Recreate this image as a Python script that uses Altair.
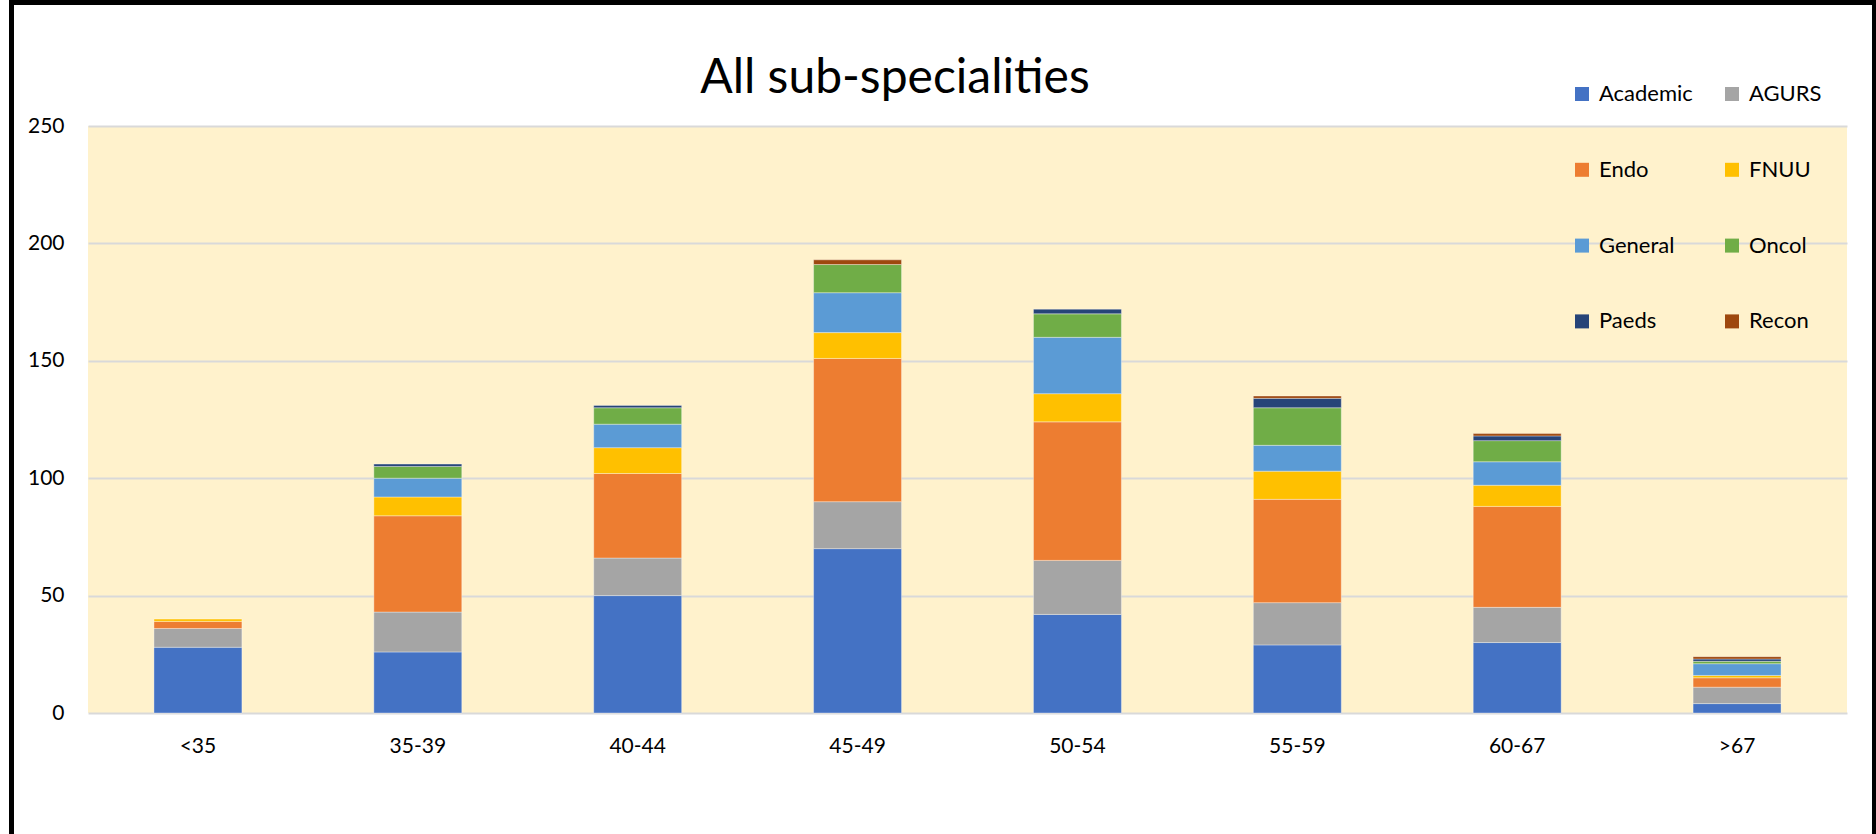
import altair as alt
import pandas as pd

# Age bands on the x axis and the sub-speciality series stacked in each bar
age_groups = ["<35", "35-39", "40-44", "45-49", "50-54", "55-59", "60-67", ">67"]
specialities = ["Academic", "AGURS", "Endo", "FNUU", "General", "Oncol", "Paeds", "Recon"]
colours = ["#4472C4", "#A5A5A5", "#ED7D31", "#FFC000", "#5B9BD5", "#70AD47", "#264478", "#9E480E"]

academic = [28, 26, 50, 70, 42, 29, 30, 4]
agurs = [8, 17, 16, 20, 23, 18, 15, 7]
endo = [3, 41, 36, 61, 59, 44, 43, 4]
fnuu = [1, 8, 11, 11, 12, 12, 9, 1]
general = [0, 8, 10, 17, 24, 11, 10, 5]
oncol = [0, 5, 7, 12, 10, 16, 9, 1]
paeds = [0, 1, 1, 0, 2, 4, 2, 1]
recon = [0, 0, 0, 2, 0, 1, 1, 1]

y_ticks = [0, 50, 100, 150, 200, 250]
chart_title = "All sub-specialities"

series = [academic, agurs, endo, fnuu, general, oncol, paeds, recon]
rows = []
for k, (name, values) in enumerate(zip(specialities, series)):
    for age, v in zip(age_groups, values):
        if v > 0:
            rows.append({"age": age, "speciality": name, "count": v, "stack_order": k})
df = pd.DataFrame(rows)

FONT = "Lato"

bars = alt.Chart(df).mark_bar(
    stroke="#FFFFFF", strokeWidth=0.6, strokeOpacity=0.6
).encode(
    x=alt.X(
        "age:N",
        sort=age_groups,
        scale=alt.Scale(domain=age_groups, paddingInner=0.6, paddingOuter=0.3),
        axis=alt.Axis(
            title=None, labelAngle=0, domain=False, ticks=False, grid=False,
            labelPadding=22, labelFontSize=21, labelColor="#000000", labelFont=FONT,
        ),
    ),
    y=alt.Y(
        "count:Q",
        stack="zero",
        scale=alt.Scale(domain=[0, 250], nice=False),
        axis=alt.Axis(
            title=None, values=y_ticks, domain=False, ticks=False,
            labelPadding=24, labelFontSize=21, labelColor="#000000", labelFont=FONT,
            gridColor="#D9D9D9", gridWidth=2,
        ),
    ),
    color=alt.Color(
        "speciality:N",
        sort=specialities,
        scale=alt.Scale(domain=specialities, range=colours),
        legend=alt.Legend(
            title=None, orient="none", legendX=1483, legendY=-43, columns=2,
            direction="horizontal",
            symbolType="square", symbolSize=196, symbolStrokeWidth=0,
            labelFontSize=22, labelFont=FONT, labelColor="#000000",
            rowPadding=53.8, columnPadding=28, labelOffset=6,
        ),
    ),
    order=alt.Order("stack_order:Q"),
)

# Chart heading, written as a text mark above the plot area
heading = alt.Chart(alt.Data(values=[{"t": chart_title}])).mark_text(
    font=FONT, fontSize=48, color="#000000", align="center", baseline="alphabetic"
).encode(
    text="t:N", x=alt.value(807), y=alt.value(-33)
)

# Black outline drawn round the whole figure
frame = alt.Chart(alt.Data(values=[{}])).mark_rect(
    filled=False, stroke="#000000", strokeWidth=5
).encode(
    x=alt.value(-76.5), x2=alt.value(1786.5), y=alt.value(-123.5), y2=alt.value(800)
)

chart = alt.layer(bars, heading, frame).properties(
    width=1759,
    height=587,
    autosize=alt.AutoSizeParams(type="none"),
    padding={"left": 88, "top": 126, "right": 29, "bottom": 121},
).configure(
    background="#FFFFFF", font=FONT
).configure_view(
    fill="#FFF2CC", strokeWidth=0
)

chart.save("out.html", embed_options={"renderer": "svg", "actions": False})
